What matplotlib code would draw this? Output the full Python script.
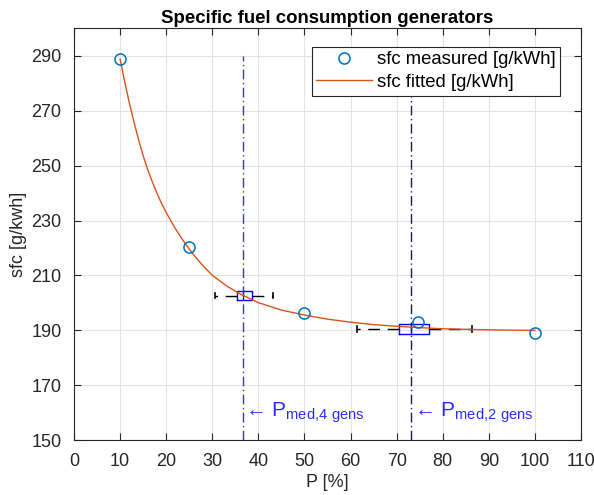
import numpy as np
import matplotlib
matplotlib.use('Agg')
import matplotlib.pyplot as plt

plt.rcParams['font.family'] = ['Liberation Sans', 'DejaVu Sans']
plt.rcParams['mathtext.default'] = 'regular'

# measured specific fuel consumption
p_meas = [10, 25, 50, 74.7, 100]
sfc_meas = [288.8, 220.2, 196.5, 193.1, 189.0]

# fitted curve
p_fit = [10, 11, 12, 13, 14, 15, 16, 17, 18, 19, 20, 22, 24, 26, 28, 30,
         33, 36, 40, 45, 50, 55, 60, 65, 70, 75, 80, 85, 90, 95, 100]
sfc_fit = [288.8, 280.5, 272.8, 265.9, 259.5, 253.6, 248.5, 244.0, 239.9,
           236.2, 232.9, 227.0, 221.9, 217.4, 213.5, 210.1, 206.3, 203.3,
           200.1, 197.4, 195.6, 194.1, 193.0, 192.1, 191.5, 191.0, 190.6,
           190.4, 190.2, 190.1, 190.0]

# box statistics of operating load, 4 gens and 2 gens
box_names = ['4 gens', '2 gens']
box_pos = [202.7, 190.6]
box_q1 = [35.3, 70.6]
box_med = [36.6, 73.2]
box_q3 = [38.6, 77.1]
box_lo = [30.5, 61.5]
box_hi = [43.2, 86.3]
med_colors = ['#3030ff', '#1c1c50']

fig = plt.figure(figsize=(5.94, 4.95), dpi=100)
ax = fig.add_axes([0.1246, 0.1105, 0.8535, 0.8325])

ax.grid(True, color='#e3e3e3', linewidth=0.8)
ax.set_axisbelow(True)

ax.plot(p_meas, sfc_meas, 'o', mfc='none', mec='#0072BD', ms=8, mew=1.1,
        label='sfc measured [g/kWh]', zorder=5)
ax.plot(p_fit, sfc_fit, '-', color='#D95319', lw=1.0,
        label='sfc fitted [g/kWh]', zorder=4)

stats = []
for i in range(len(box_names)):
    stats.append(dict(med=box_med[i], q1=box_q1[i], q3=box_q3[i],
                      whislo=box_lo[i], whishi=box_hi[i], label=box_names[i]))
ax.bxp(stats, positions=box_pos, widths=3.6, orientation='horizontal',
       showfliers=False, manage_ticks=False, capwidths=2.0,
       boxprops=dict(color='b', lw=1.0),
       whiskerprops=dict(color='k', lw=1.0, linestyle=(0, (8.5, 5.5))),
       capprops=dict(color='k', lw=1.2),
       medianprops=dict(color='b', lw=1.0))

for i in range(len(box_names)):
    ax.plot([box_med[i], box_med[i]], [150, 290], color=med_colors[i], lw=1.0,
            linestyle=(0, (7, 2.5, 1, 2.5)), zorder=3)
    sub = box_names[i].replace(' ', r'\ ')
    ax.text(box_med[i] + 0.6, 158.6, '← P$_{med{,}' + sub + '}$',
            color='#2a2aff', fontsize=15, va='baseline', ha='left')

ax.set_xlim(0, 110)
ax.set_ylim(150, 300)
ax.set_xticks(np.arange(0, 111, 10))
ax.set_yticks(np.arange(150, 291, 20))
ax.tick_params(direction='in', length=5, top=True, right=True, labelsize=13,
               colors='#262626', width=0.8)
ax.tick_params(axis='x', pad=9)
ax.tick_params(axis='y', pad=9)
for s in ax.spines.values():
    s.set_color('#262626')
    s.set_linewidth(0.8)

ax.set_xlabel('P [%]', fontsize=13, color='#262626', labelpad=3)
ax.set_ylabel('sfc [g/kwh]', fontsize=13, color='#262626', labelpad=3)
ax.set_title('Specific fuel consumption generators', fontsize=13.4,
             fontweight='bold', pad=4)

leg = ax.legend(loc='upper left', bbox_to_anchor=(0.469, 0.955), fontsize=13.3,
                frameon=True, fancybox=False, framealpha=1, edgecolor='#262626',
                handlelength=3.0, handletextpad=0.27, labelspacing=0.3,
                borderpad=0.25, borderaxespad=0)
leg.get_frame().set_linewidth(0.8)

fig.savefig('out.png', dpi=100)
